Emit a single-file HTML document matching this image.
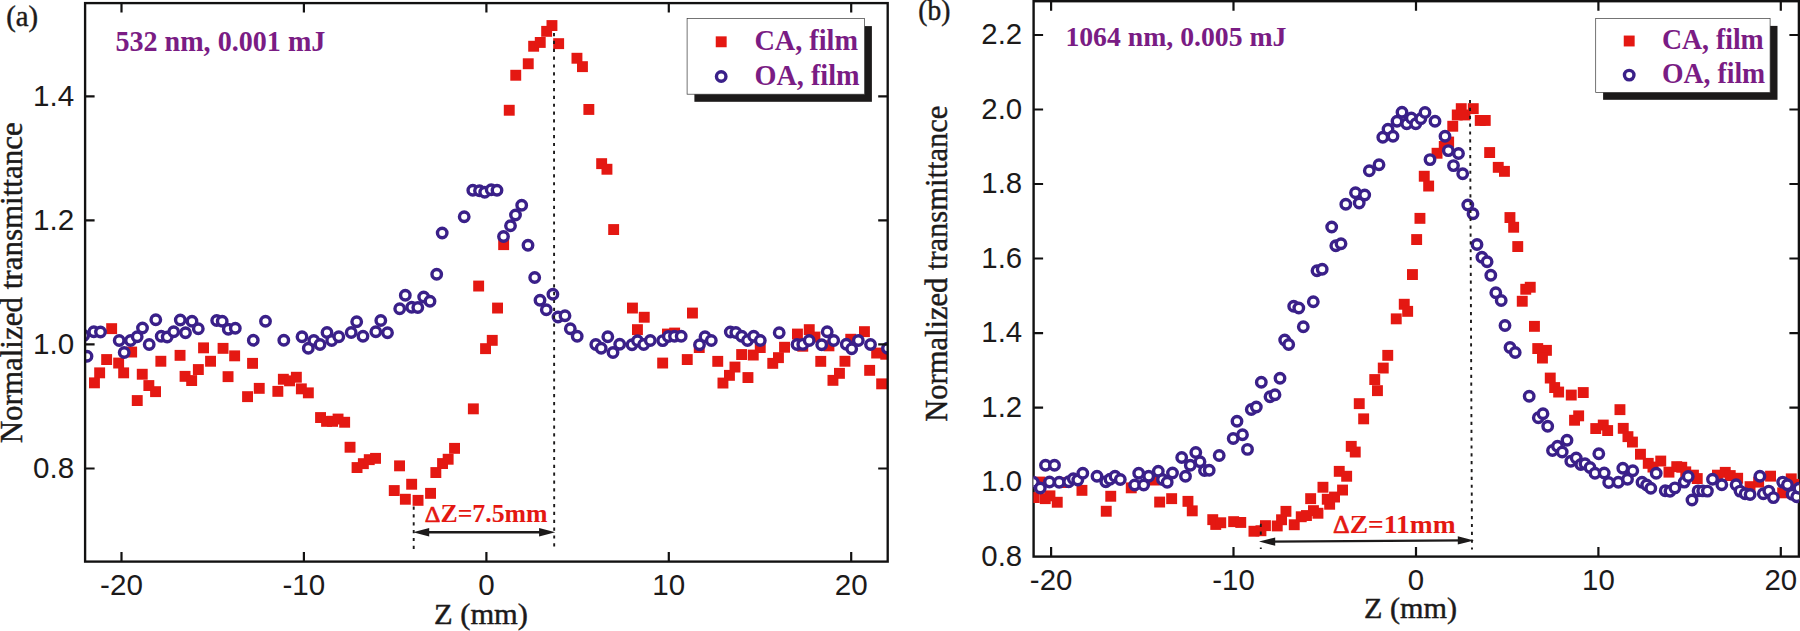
<!DOCTYPE html>
<html lang="en"><head><meta charset="utf-8"><title>Z-scan normalized transmittance</title>
<style>html,body{margin:0;padding:0;background:#fff}body{width:1800px;height:631px;overflow:hidden}svg{display:block}.s{font-family:"Liberation Serif","Times New Roman",serif}.a{font-family:"Liberation Sans",Arial,sans-serif}.b{font-weight:bold}.k{stroke:#1c1a1a;stroke-width:.45px;paint-order:stroke}</style></head><body>
<svg width="1800" height="631" viewBox="0 0 1800 631">
<rect width="1800" height="631" fill="#fff"/>
<clipPath id="cL"><rect x="85.1" y="3.1" width="802.6" height="558.5"/></clipPath>
<g clip-path="url(#cL)">
<g fill="#E41812"><rect x="106.2" y="323.2" width="10.9" height="10.9"/><rect x="101.2" y="354.1" width="10.9" height="10.9"/><rect x="94.2" y="367.4" width="10.9" height="10.9"/><rect x="89.0" y="377.4" width="10.9" height="10.9"/><rect x="113.2" y="357.6" width="10.9" height="10.9"/><rect x="118.2" y="367.4" width="10.9" height="10.9"/><rect x="126.2" y="346.6" width="10.9" height="10.9"/><rect x="131.8" y="395.1" width="10.9" height="10.9"/><rect x="136.8" y="368.8" width="10.9" height="10.9"/><rect x="143.4" y="380.1" width="10.9" height="10.9"/><rect x="150.1" y="386.2" width="10.9" height="10.9"/><rect x="155.4" y="355.8" width="10.9" height="10.9"/><rect x="174.6" y="349.9" width="10.9" height="10.9"/><rect x="179.6" y="370.9" width="10.9" height="10.9"/><rect x="186.2" y="375.1" width="10.9" height="10.9"/><rect x="192.9" y="364.1" width="10.9" height="10.9"/><rect x="198.1" y="342.4" width="10.9" height="10.9"/><rect x="205.1" y="355.8" width="10.9" height="10.9"/><rect x="217.6" y="342.9" width="10.9" height="10.9"/><rect x="222.6" y="371.2" width="10.9" height="10.9"/><rect x="229.2" y="350.4" width="10.9" height="10.9"/><rect x="247.1" y="357.9" width="10.9" height="10.9"/><rect x="242.1" y="391.2" width="10.9" height="10.9"/><rect x="253.8" y="382.9" width="10.9" height="10.9"/><rect x="272.4" y="385.9" width="10.9" height="10.9"/><rect x="277.9" y="373.8" width="10.9" height="10.9"/><rect x="284.1" y="375.4" width="10.9" height="10.9"/><rect x="290.9" y="371.8" width="10.9" height="10.9"/><rect x="295.9" y="383.4" width="10.9" height="10.9"/><rect x="302.9" y="387.4" width="10.9" height="10.9"/><rect x="315.1" y="412.1" width="10.9" height="10.9"/><rect x="321.1" y="415.9" width="10.9" height="10.9"/><rect x="327.1" y="415.9" width="10.9" height="10.9"/><rect x="332.6" y="413.6" width="10.9" height="10.9"/><rect x="339.2" y="416.8" width="10.9" height="10.9"/><rect x="344.6" y="441.8" width="10.9" height="10.9"/><rect x="351.6" y="462.1" width="10.9" height="10.9"/><rect x="357.9" y="458.2" width="10.9" height="10.9"/><rect x="363.8" y="454.2" width="10.9" height="10.9"/><rect x="370.1" y="452.9" width="10.9" height="10.9"/><rect x="394.1" y="460.4" width="10.9" height="10.9"/><rect x="388.8" y="485.1" width="10.9" height="10.9"/><rect x="406.2" y="478.8" width="10.9" height="10.9"/><rect x="399.9" y="493.8" width="10.9" height="10.9"/><rect x="412.6" y="494.9" width="10.9" height="10.9"/><rect x="425.1" y="487.9" width="10.9" height="10.9"/><rect x="430.4" y="467.1" width="10.9" height="10.9"/><rect x="437.1" y="458.1" width="10.9" height="10.9"/><rect x="442.7" y="453.8" width="10.9" height="10.9"/><rect x="449.1" y="442.9" width="10.9" height="10.9"/><rect x="467.9" y="403.4" width="10.9" height="10.9"/><rect x="473.2" y="280.6" width="10.9" height="10.9"/><rect x="492.1" y="302.6" width="10.9" height="10.9"/><rect x="486.8" y="334.9" width="10.9" height="10.9"/><rect x="480.1" y="343.2" width="10.9" height="10.9"/><rect x="498.2" y="239.2" width="10.9" height="10.9"/><rect x="503.8" y="104.8" width="10.9" height="10.9"/><rect x="510.3" y="69.8" width="10.9" height="10.9"/><rect x="522.8" y="58.3" width="10.9" height="10.9"/><rect x="528.2" y="40.8" width="10.9" height="10.9"/><rect x="534.8" y="37.0" width="10.9" height="10.9"/><rect x="541.2" y="25.9" width="10.9" height="10.9"/><rect x="546.5" y="20.1" width="10.9" height="10.9"/><rect x="553.2" y="38.2" width="10.9" height="10.9"/><rect x="571.5" y="52.8" width="10.9" height="10.9"/><rect x="577.0" y="61.2" width="10.9" height="10.9"/><rect x="583.4" y="104.0" width="10.9" height="10.9"/><rect x="596.2" y="158.2" width="10.9" height="10.9"/><rect x="601.5" y="163.8" width="10.9" height="10.9"/><rect x="608.2" y="224.1" width="10.9" height="10.9"/><rect x="627.0" y="302.6" width="10.9" height="10.9"/><rect x="638.8" y="311.8" width="10.9" height="10.9"/><rect x="632.0" y="324.2" width="10.9" height="10.9"/><rect x="657.2" y="357.6" width="10.9" height="10.9"/><rect x="662.0" y="328.6" width="10.9" height="10.9"/><rect x="669.2" y="327.6" width="10.9" height="10.9"/><rect x="687.0" y="307.6" width="10.9" height="10.9"/><rect x="681.8" y="354.1" width="10.9" height="10.9"/><rect x="693.8" y="342.1" width="10.9" height="10.9"/><rect x="712.3" y="355.9" width="10.9" height="10.9"/><rect x="717.5" y="377.6" width="10.9" height="10.9"/><rect x="724.0" y="369.9" width="10.9" height="10.9"/><rect x="729.5" y="361.6" width="10.9" height="10.9"/><rect x="736.2" y="349.1" width="10.9" height="10.9"/><rect x="742.5" y="372.1" width="10.9" height="10.9"/><rect x="747.8" y="349.6" width="10.9" height="10.9"/><rect x="754.8" y="342.1" width="10.9" height="10.9"/><rect x="767.3" y="357.9" width="10.9" height="10.9"/><rect x="773.0" y="352.2" width="10.9" height="10.9"/><rect x="779.1" y="341.8" width="10.9" height="10.9"/><rect x="792.0" y="328.6" width="10.9" height="10.9"/><rect x="797.3" y="340.8" width="10.9" height="10.9"/><rect x="803.8" y="324.2" width="10.9" height="10.9"/><rect x="809.5" y="331.6" width="10.9" height="10.9"/><rect x="815.3" y="355.9" width="10.9" height="10.9"/><rect x="823.5" y="340.4" width="10.9" height="10.9"/><rect x="827.5" y="374.9" width="10.9" height="10.9"/><rect x="834.0" y="367.9" width="10.9" height="10.9"/><rect x="839.5" y="355.8" width="10.9" height="10.9"/><rect x="845.3" y="333.8" width="10.9" height="10.9"/><rect x="859.0" y="326.2" width="10.9" height="10.9"/><rect x="864.2" y="364.9" width="10.9" height="10.9"/><rect x="871.2" y="347.6" width="10.9" height="10.9"/><rect x="876.2" y="378.4" width="10.9" height="10.9"/><rect x="880.3" y="348.8" width="10.9" height="10.9"/></g>
<g fill="#fff" stroke="#3A2089" stroke-width="3.4"><circle cx="83.7" cy="335.5" r="4.75"/><circle cx="87.0" cy="356.3" r="4.75"/><circle cx="93.8" cy="331.7" r="4.75"/><circle cx="100.5" cy="332.0" r="4.75"/><circle cx="119.2" cy="340.5" r="4.75"/><circle cx="124.2" cy="352.5" r="4.75"/><circle cx="130.5" cy="340.5" r="4.75"/><circle cx="137.2" cy="336.7" r="4.75"/><circle cx="142.5" cy="328.0" r="4.75"/><circle cx="149.2" cy="344.5" r="4.75"/><circle cx="155.8" cy="319.7" r="4.75"/><circle cx="161.2" cy="336.3" r="4.75"/><circle cx="167.2" cy="337.0" r="4.75"/><circle cx="173.7" cy="331.7" r="4.75"/><circle cx="180.3" cy="320.0" r="4.75"/><circle cx="185.5" cy="332.8" r="4.75"/><circle cx="192.0" cy="321.3" r="4.75"/><circle cx="198.3" cy="328.7" r="4.75"/><circle cx="216.7" cy="320.5" r="4.75"/><circle cx="222.2" cy="321.3" r="4.75"/><circle cx="228.3" cy="329.2" r="4.75"/><circle cx="235.3" cy="328.3" r="4.75"/><circle cx="253.3" cy="340.3" r="4.75"/><circle cx="265.5" cy="321.2" r="4.75"/><circle cx="283.8" cy="340.3" r="4.75"/><circle cx="302.0" cy="336.7" r="4.75"/><circle cx="308.3" cy="348.3" r="4.75"/><circle cx="313.8" cy="340.5" r="4.75"/><circle cx="320.0" cy="344.5" r="4.75"/><circle cx="327.0" cy="332.5" r="4.75"/><circle cx="331.7" cy="340.5" r="4.75"/><circle cx="338.8" cy="336.7" r="4.75"/><circle cx="351.2" cy="332.5" r="4.75"/><circle cx="356.7" cy="321.7" r="4.75"/><circle cx="363.0" cy="336.3" r="4.75"/><circle cx="375.8" cy="331.7" r="4.75"/><circle cx="380.8" cy="320.5" r="4.75"/><circle cx="387.5" cy="332.8" r="4.75"/><circle cx="399.7" cy="308.7" r="4.75"/><circle cx="405.3" cy="295.3" r="4.75"/><circle cx="411.7" cy="307.2" r="4.75"/><circle cx="417.8" cy="307.5" r="4.75"/><circle cx="423.7" cy="297.0" r="4.75"/><circle cx="430.0" cy="301.2" r="4.75"/><circle cx="436.7" cy="274.2" r="4.75"/><circle cx="442.2" cy="233.0" r="4.75"/><circle cx="464.2" cy="216.7" r="4.75"/><circle cx="472.8" cy="190.3" r="4.75"/><circle cx="479.5" cy="190.8" r="4.75"/><circle cx="484.7" cy="192.2" r="4.75"/><circle cx="491.2" cy="189.7" r="4.75"/><circle cx="497.0" cy="190.3" r="4.75"/><circle cx="503.5" cy="236.5" r="4.75"/><circle cx="510.5" cy="225.8" r="4.75"/><circle cx="515.5" cy="215.0" r="4.75"/><circle cx="521.7" cy="205.3" r="4.75"/><circle cx="528.0" cy="245.2" r="4.75"/><circle cx="534.7" cy="277.5" r="4.75"/><circle cx="540.0" cy="300.2" r="4.75"/><circle cx="546.3" cy="309.7" r="4.75"/><circle cx="552.9" cy="294.2" r="4.75"/><circle cx="558.0" cy="317.0" r="4.75"/><circle cx="565.0" cy="315.8" r="4.75"/><circle cx="570.3" cy="328.7" r="4.75"/><circle cx="577.2" cy="336.3" r="4.75"/><circle cx="595.8" cy="344.5" r="4.75"/><circle cx="601.2" cy="348.3" r="4.75"/><circle cx="607.8" cy="336.7" r="4.75"/><circle cx="613.0" cy="352.5" r="4.75"/><circle cx="619.7" cy="344.2" r="4.75"/><circle cx="632.0" cy="344.7" r="4.75"/><circle cx="637.5" cy="340.8" r="4.75"/><circle cx="643.7" cy="344.5" r="4.75"/><circle cx="650.3" cy="340.5" r="4.75"/><circle cx="662.7" cy="340.6" r="4.75"/><circle cx="668.3" cy="336.5" r="4.75"/><circle cx="674.5" cy="336.3" r="4.75"/><circle cx="681.2" cy="336.2" r="4.75"/><circle cx="699.5" cy="344.7" r="4.75"/><circle cx="705.0" cy="336.7" r="4.75"/><circle cx="711.3" cy="340.5" r="4.75"/><circle cx="730.3" cy="332.0" r="4.75"/><circle cx="735.8" cy="332.5" r="4.75"/><circle cx="741.7" cy="336.3" r="4.75"/><circle cx="747.5" cy="340.5" r="4.75"/><circle cx="753.7" cy="336.3" r="4.75"/><circle cx="760.3" cy="340.5" r="4.75"/><circle cx="779.2" cy="332.8" r="4.75"/><circle cx="797.0" cy="344.5" r="4.75"/><circle cx="802.8" cy="344.4" r="4.75"/><circle cx="809.2" cy="340.5" r="4.75"/><circle cx="821.7" cy="344.7" r="4.75"/><circle cx="827.2" cy="331.7" r="4.75"/><circle cx="833.7" cy="340.5" r="4.75"/><circle cx="846.3" cy="344.2" r="4.75"/><circle cx="851.7" cy="348.7" r="4.75"/><circle cx="858.3" cy="340.5" r="4.75"/><circle cx="870.5" cy="344.5" r="4.75"/><circle cx="887.5" cy="348.3" r="4.75"/></g>
</g>
<rect x="85.1" y="3.1" width="802.6" height="558.5" fill="none" stroke="#121111" stroke-width="2.35"/>
<path d="M121.5 561.6v-9.5M121.5 3.1v9.5M303.9 561.6v-9.5M303.9 3.1v9.5M486.4 561.6v-9.5M486.4 3.1v9.5M668.8 561.6v-9.5M668.8 3.1v9.5M851.2 561.6v-9.5M851.2 3.1v9.5M85.1 468.5h9.5M887.7 468.5h-9.5M85.1 344.4h9.5M887.7 344.4h-9.5M85.1 220.4h9.5M887.7 220.4h-9.5M85.1 96.3h9.5M887.7 96.3h-9.5" stroke="#121111" stroke-width="2.2" fill="none"/>
<line x1="554.0" y1="33" x2="554.2" y2="547.5" stroke="#1c1a1a" stroke-width="1.9" stroke-dasharray="3.2 4.65" stroke-dashoffset="0"/>
<line x1="413.7" y1="506.5" x2="413.7" y2="549.5" stroke="#1c1a1a" stroke-width="1.9" stroke-dasharray="3.2 4.65" stroke-dashoffset="0"/>
<line x1="421.0" y1="532.2" x2="547.3" y2="532.2" stroke="#1c1a1a" stroke-width="2.4"/>
<path d="M413.0 532.2l16.2 -4.2v8.4zM555.3 532.2l-16.2 -4.2v8.4z" fill="#1c1a1a"/>
<text class="s b" x="424.8" y="521.7" font-size="25.5" fill="#E41812" textLength="122.8" lengthAdjust="spacingAndGlyphs"><tspan font-weight="normal" font-size="24" stroke="#E41812" stroke-width="0.7">Δ</tspan>Z=7.5mm</text>
<text class="s b" x="115.4" y="50.8" font-size="29.3" fill="#7A1C84" textLength="210" lengthAdjust="spacingAndGlyphs">532 nm, 0.001 mJ</text>
<rect x="694.4" y="26.1" width="177.5" height="75.7" fill="#1c1a1a"/>
<rect x="687.1" y="18.5" width="177.5" height="75.7" fill="#fff" stroke="#3a3a3a" stroke-width="0.7"/>
<rect x="715.75" y="36.349999999999994" width="10.9" height="10.9" fill="#E41812"/>
<circle cx="721.2" cy="76.5" r="4.75" fill="none" stroke="#3A2089" stroke-width="3.4"/>
<text class="s b" x="754.4" y="49.9" font-size="30.2" fill="#7A1C84" textLength="103.6" lengthAdjust="spacingAndGlyphs">CA, film</text>
<text class="s b" x="754.4" y="84.7" font-size="30.2" fill="#7A1C84" textLength="105.2" lengthAdjust="spacingAndGlyphs">OA, film</text>
<text class="a" x="121.5" y="595.3" font-size="29.6" fill="#1c1a1a" text-anchor="middle">-20</text>
<text class="a" x="303.9" y="595.3" font-size="29.6" fill="#1c1a1a" text-anchor="middle">-10</text>
<text class="a" x="486.4" y="595.3" font-size="29.6" fill="#1c1a1a" text-anchor="middle">0</text>
<text class="a" x="668.8" y="595.3" font-size="29.6" fill="#1c1a1a" text-anchor="middle">10</text>
<text class="a" x="851.2" y="595.3" font-size="29.6" fill="#1c1a1a" text-anchor="middle">20</text>
<text class="a" x="74.1" y="478.1" font-size="29.6" fill="#1c1a1a" text-anchor="end">0.8</text>
<text class="a" x="74.1" y="354.0" font-size="29.6" fill="#1c1a1a" text-anchor="end">1.0</text>
<text class="a" x="74.1" y="230.0" font-size="29.6" fill="#1c1a1a" text-anchor="end">1.2</text>
<text class="a" x="74.1" y="105.89999999999999" font-size="29.6" fill="#1c1a1a" text-anchor="end">1.4</text>
<text class="s k" x="434.0" y="624.4" font-size="29.8" fill="#1c1a1a" textLength="94" lengthAdjust="spacingAndGlyphs">Z (mm)</text>
<text class="s k" transform="translate(22.2 443.3) rotate(-90)" font-size="31" fill="#1c1a1a" textLength="321" lengthAdjust="spacingAndGlyphs">Normalized transmittance</text>
<text class="s k" x="6.2" y="26.0" font-size="28.8" fill="#1c1a1a" textLength="31.9" lengthAdjust="spacingAndGlyphs">(a)</text>
<clipPath id="cR"><rect x="1033.4" y="1.2" width="765.8" height="555.4"/></clipPath>
<rect x="1033.6" y="1.2" width="765.3000000000002" height="555.4" fill="none" stroke="#121111" stroke-width="2.4"/>
<path d="M1051.1 556.6v-9.5M1051.1 1.2v9.5M1233.5 556.6v-9.5M1233.5 1.2v9.5M1416.0 556.6v-9.5M1416.0 1.2v9.5M1598.4 556.6v-9.5M1598.4 1.2v9.5M1780.8 556.6v-9.5M1780.8 1.2v9.5M1033.6 482.1h9.5M1798.9 482.1h-9.5M1033.6 407.6h9.5M1798.9 407.6h-9.5M1033.6 333.1h9.5M1798.9 333.1h-9.5M1033.6 258.5h9.5M1798.9 258.5h-9.5M1033.6 184.0h9.5M1798.9 184.0h-9.5M1033.6 109.5h9.5M1798.9 109.5h-9.5M1033.6 35.0h9.5M1798.9 35.0h-9.5" stroke="#121111" stroke-width="2.2" fill="none"/>
<g clip-path="url(#cR)">
<g fill="#E41812"><rect x="1028.8" y="492.1" width="10.9" height="10.9"/><rect x="1034.5" y="476.6" width="10.9" height="10.9"/><rect x="1039.8" y="493.2" width="10.9" height="10.9"/><rect x="1044.5" y="490.4" width="10.9" height="10.9"/><rect x="1051.8" y="496.8" width="10.9" height="10.9"/><rect x="1059.5" y="477.1" width="10.9" height="10.9"/><rect x="1076.5" y="484.9" width="10.9" height="10.9"/><rect x="1105.3" y="490.8" width="10.9" height="10.9"/><rect x="1100.8" y="505.8" width="10.9" height="10.9"/><rect x="1125.8" y="482.4" width="10.9" height="10.9"/><rect x="1148.8" y="474.6" width="10.9" height="10.9"/><rect x="1154.2" y="496.6" width="10.9" height="10.9"/><rect x="1166.2" y="493.2" width="10.9" height="10.9"/><rect x="1182.5" y="495.9" width="10.9" height="10.9"/><rect x="1186.8" y="505.4" width="10.9" height="10.9"/><rect x="1207.3" y="514.2" width="10.9" height="10.9"/><rect x="1210.3" y="519.0" width="10.9" height="10.9"/><rect x="1215.3" y="517.3" width="10.9" height="10.9"/><rect x="1228.2" y="516.2" width="10.9" height="10.9"/><rect x="1235.3" y="517.0" width="10.9" height="10.9"/><rect x="1248.5" y="525.8" width="10.9" height="10.9"/><rect x="1255.5" y="525.3" width="10.9" height="10.9"/><rect x="1260.0" y="520.2" width="10.9" height="10.9"/><rect x="1271.8" y="520.5" width="10.9" height="10.9"/><rect x="1276.1" y="514.3" width="10.9" height="10.9"/><rect x="1280.5" y="505.9" width="10.9" height="10.9"/><rect x="1288.8" y="519.3" width="10.9" height="10.9"/><rect x="1295.8" y="511.3" width="10.9" height="10.9"/><rect x="1301.0" y="510.1" width="10.9" height="10.9"/><rect x="1305.2" y="493.2" width="10.9" height="10.9"/><rect x="1308.0" y="505.2" width="10.9" height="10.9"/><rect x="1312.5" y="507.8" width="10.9" height="10.9"/><rect x="1317.5" y="481.8" width="10.9" height="10.9"/><rect x="1324.2" y="498.8" width="10.9" height="10.9"/><rect x="1329.1" y="491.6" width="10.9" height="10.9"/><rect x="1337.1" y="484.6" width="10.9" height="10.9"/><rect x="1321.8" y="493.8" width="10.9" height="10.9"/><rect x="1333.8" y="465.9" width="10.9" height="10.9"/><rect x="1341.2" y="470.8" width="10.9" height="10.9"/><rect x="1345.8" y="440.9" width="10.9" height="10.9"/><rect x="1349.8" y="446.6" width="10.9" height="10.9"/><rect x="1353.8" y="398.2" width="10.9" height="10.9"/><rect x="1358.2" y="413.4" width="10.9" height="10.9"/><rect x="1369.3" y="374.1" width="10.9" height="10.9"/><rect x="1372.0" y="385.2" width="10.9" height="10.9"/><rect x="1382.3" y="349.9" width="10.9" height="10.9"/><rect x="1377.8" y="362.6" width="10.9" height="10.9"/><rect x="1407.0" y="269.1" width="10.9" height="10.9"/><rect x="1398.8" y="298.8" width="10.9" height="10.9"/><rect x="1402.2" y="305.9" width="10.9" height="10.9"/><rect x="1390.8" y="313.4" width="10.9" height="10.9"/><rect x="1431.6" y="147.8" width="10.9" height="10.9"/><rect x="1438.8" y="141.0" width="10.9" height="10.9"/><rect x="1418.8" y="170.8" width="10.9" height="10.9"/><rect x="1423.2" y="180.6" width="10.9" height="10.9"/><rect x="1414.5" y="212.9" width="10.9" height="10.9"/><rect x="1411.2" y="234.1" width="10.9" height="10.9"/><rect x="1443.2" y="136.6" width="10.9" height="10.9"/><rect x="1447.3" y="120.8" width="10.9" height="10.9"/><rect x="1451.8" y="109.5" width="10.9" height="10.9"/><rect x="1455.8" y="103.2" width="10.9" height="10.9"/><rect x="1459.5" y="109.5" width="10.9" height="10.9"/><rect x="1467.8" y="103.2" width="10.9" height="10.9"/><rect x="1474.8" y="115.0" width="10.9" height="10.9"/><rect x="1479.8" y="115.0" width="10.9" height="10.9"/><rect x="1484.2" y="147.1" width="10.9" height="10.9"/><rect x="1492.8" y="161.9" width="10.9" height="10.9"/><rect x="1499.0" y="165.9" width="10.9" height="10.9"/><rect x="1504.5" y="212.1" width="10.9" height="10.9"/><rect x="1508.2" y="221.8" width="10.9" height="10.9"/><rect x="1512.3" y="241.1" width="10.9" height="10.9"/><rect x="1520.3" y="283.8" width="10.9" height="10.9"/><rect x="1524.8" y="281.8" width="10.9" height="10.9"/><rect x="1516.8" y="295.8" width="10.9" height="10.9"/><rect x="1529.0" y="320.9" width="10.9" height="10.9"/><rect x="1532.3" y="343.1" width="10.9" height="10.9"/><rect x="1541.0" y="344.9" width="10.9" height="10.9"/><rect x="1537.0" y="352.6" width="10.9" height="10.9"/><rect x="1544.8" y="372.6" width="10.9" height="10.9"/><rect x="1549.2" y="382.1" width="10.9" height="10.9"/><rect x="1553.2" y="386.6" width="10.9" height="10.9"/><rect x="1565.8" y="389.6" width="10.9" height="10.9"/><rect x="1577.8" y="387.1" width="10.9" height="10.9"/><rect x="1573.2" y="410.4" width="10.9" height="10.9"/><rect x="1569.1" y="414.8" width="10.9" height="10.9"/><rect x="1590.3" y="423.1" width="10.9" height="10.9"/><rect x="1597.8" y="419.6" width="10.9" height="10.9"/><rect x="1602.2" y="425.1" width="10.9" height="10.9"/><rect x="1614.5" y="404.2" width="10.9" height="10.9"/><rect x="1617.8" y="422.9" width="10.9" height="10.9"/><rect x="1622.5" y="431.2" width="10.9" height="10.9"/><rect x="1627.0" y="436.6" width="10.9" height="10.9"/><rect x="1635.0" y="448.8" width="10.9" height="10.9"/><rect x="1642.8" y="457.9" width="10.9" height="10.9"/><rect x="1655.3" y="455.6" width="10.9" height="10.9"/><rect x="1647.5" y="461.6" width="10.9" height="10.9"/><rect x="1663.5" y="466.7" width="10.9" height="10.9"/><rect x="1671.3" y="461.2" width="10.9" height="10.9"/><rect x="1676.3" y="461.8" width="10.9" height="10.9"/><rect x="1680.3" y="466.4" width="10.9" height="10.9"/><rect x="1688.0" y="469.7" width="10.9" height="10.9"/><rect x="1691.8" y="473.1" width="10.9" height="10.9"/><rect x="1712.0" y="469.7" width="10.9" height="10.9"/><rect x="1719.8" y="466.9" width="10.9" height="10.9"/><rect x="1724.8" y="470.1" width="10.9" height="10.9"/><rect x="1732.2" y="472.8" width="10.9" height="10.9"/><rect x="1744.6" y="481.2" width="10.9" height="10.9"/><rect x="1753.2" y="476.7" width="10.9" height="10.9"/><rect x="1765.1" y="470.7" width="10.9" height="10.9"/><rect x="1777.2" y="487.4" width="10.9" height="10.9"/><rect x="1785.8" y="473.4" width="10.9" height="10.9"/><rect x="1791.2" y="478.9" width="10.9" height="10.9"/></g>
<g fill="#fff" stroke="#3A2089" stroke-width="3.4"><circle cx="1033.3" cy="482.2" r="4.75"/><circle cx="1040.3" cy="488.0" r="4.75"/><circle cx="1045.5" cy="465.3" r="4.75"/><circle cx="1049.5" cy="482.0" r="4.75"/><circle cx="1054.5" cy="465.3" r="4.75"/><circle cx="1059.2" cy="482.2" r="4.75"/><circle cx="1068.7" cy="481.7" r="4.75"/><circle cx="1073.3" cy="478.7" r="4.75"/><circle cx="1077.8" cy="480.0" r="4.75"/><circle cx="1082.8" cy="473.3" r="4.75"/><circle cx="1097.0" cy="476.3" r="4.75"/><circle cx="1105.8" cy="481.7" r="4.75"/><circle cx="1110.0" cy="479.2" r="4.75"/><circle cx="1115.0" cy="476.2" r="4.75"/><circle cx="1120.3" cy="479.5" r="4.75"/><circle cx="1134.7" cy="485.0" r="4.75"/><circle cx="1138.7" cy="473.3" r="4.75"/><circle cx="1143.7" cy="485.0" r="4.75"/><circle cx="1148.7" cy="476.2" r="4.75"/><circle cx="1158.3" cy="471.2" r="4.75"/><circle cx="1162.5" cy="479.5" r="4.75"/><circle cx="1167.2" cy="482.2" r="4.75"/><circle cx="1172.5" cy="473.0" r="4.75"/><circle cx="1181.7" cy="457.5" r="4.75"/><circle cx="1185.5" cy="476.2" r="4.75"/><circle cx="1190.3" cy="465.3" r="4.75"/><circle cx="1195.8" cy="452.5" r="4.75"/><circle cx="1200.0" cy="461.7" r="4.75"/><circle cx="1204.5" cy="470.5" r="4.75"/><circle cx="1209.2" cy="470.3" r="4.75"/><circle cx="1219.2" cy="455.5" r="4.75"/><circle cx="1233.2" cy="438.5" r="4.75"/><circle cx="1237.0" cy="421.3" r="4.75"/><circle cx="1242.5" cy="434.7" r="4.75"/><circle cx="1247.5" cy="449.4" r="4.75"/><circle cx="1251.3" cy="409.5" r="4.75"/><circle cx="1256.3" cy="407.0" r="4.75"/><circle cx="1261.3" cy="382.2" r="4.75"/><circle cx="1270.0" cy="396.7" r="4.75"/><circle cx="1275.0" cy="394.7" r="4.75"/><circle cx="1280.0" cy="378.3" r="4.75"/><circle cx="1284.7" cy="340.0" r="4.75"/><circle cx="1288.7" cy="344.5" r="4.75"/><circle cx="1293.7" cy="306.3" r="4.75"/><circle cx="1298.8" cy="308.0" r="4.75"/><circle cx="1303.3" cy="326.7" r="4.75"/><circle cx="1313.3" cy="301.7" r="4.75"/><circle cx="1317.0" cy="270.8" r="4.75"/><circle cx="1322.2" cy="269.2" r="4.75"/><circle cx="1331.7" cy="227.0" r="4.75"/><circle cx="1335.8" cy="245.7" r="4.75"/><circle cx="1341.0" cy="243.8" r="4.75"/><circle cx="1345.8" cy="204.2" r="4.75"/><circle cx="1355.5" cy="192.8" r="4.75"/><circle cx="1359.2" cy="203.0" r="4.75"/><circle cx="1364.7" cy="195.0" r="4.75"/><circle cx="1369.3" cy="170.8" r="4.75"/><circle cx="1379.0" cy="164.7" r="4.75"/><circle cx="1382.8" cy="137.2" r="4.75"/><circle cx="1388.0" cy="129.2" r="4.75"/><circle cx="1393.0" cy="136.3" r="4.75"/><circle cx="1397.0" cy="121.3" r="4.75"/><circle cx="1402.0" cy="112.2" r="4.75"/><circle cx="1406.7" cy="123.7" r="4.75"/><circle cx="1411.3" cy="118.0" r="4.75"/><circle cx="1415.8" cy="123.7" r="4.75"/><circle cx="1420.8" cy="118.7" r="4.75"/><circle cx="1425.0" cy="112.5" r="4.75"/><circle cx="1430.0" cy="159.6" r="4.75"/><circle cx="1435.0" cy="121.3" r="4.75"/><circle cx="1445.0" cy="136.3" r="4.75"/><circle cx="1448.3" cy="150.6" r="4.75"/><circle cx="1453.5" cy="165.6" r="4.75"/><circle cx="1458.5" cy="153.5" r="4.75"/><circle cx="1462.7" cy="173.8" r="4.75"/><circle cx="1467.8" cy="205.0" r="4.75"/><circle cx="1473.0" cy="213.8" r="4.75"/><circle cx="1477.0" cy="244.5" r="4.75"/><circle cx="1481.9" cy="257.3" r="4.75"/><circle cx="1487.1" cy="261.7" r="4.75"/><circle cx="1490.8" cy="275.3" r="4.75"/><circle cx="1495.8" cy="292.8" r="4.75"/><circle cx="1501.2" cy="300.5" r="4.75"/><circle cx="1505.0" cy="325.5" r="4.75"/><circle cx="1510.0" cy="347.5" r="4.75"/><circle cx="1515.2" cy="352.5" r="4.75"/><circle cx="1529.2" cy="396.3" r="4.75"/><circle cx="1538.3" cy="417.8" r="4.75"/><circle cx="1543.0" cy="413.7" r="4.75"/><circle cx="1547.7" cy="426.3" r="4.75"/><circle cx="1552.5" cy="450.5" r="4.75"/><circle cx="1557.5" cy="446.3" r="4.75"/><circle cx="1562.2" cy="452.0" r="4.75"/><circle cx="1567.0" cy="440.3" r="4.75"/><circle cx="1570.8" cy="461.3" r="4.75"/><circle cx="1576.2" cy="458.0" r="4.75"/><circle cx="1580.8" cy="464.5" r="4.75"/><circle cx="1585.0" cy="463.8" r="4.75"/><circle cx="1590.0" cy="467.5" r="4.75"/><circle cx="1595.0" cy="473.3" r="4.75"/><circle cx="1598.8" cy="453.7" r="4.75"/><circle cx="1604.2" cy="473.0" r="4.75"/><circle cx="1608.7" cy="482.5" r="4.75"/><circle cx="1618.3" cy="482.2" r="4.75"/><circle cx="1622.8" cy="468.3" r="4.75"/><circle cx="1627.5" cy="479.2" r="4.75"/><circle cx="1632.8" cy="470.8" r="4.75"/><circle cx="1642.0" cy="482.2" r="4.75"/><circle cx="1646.7" cy="485.0" r="4.75"/><circle cx="1650.8" cy="488.3" r="4.75"/><circle cx="1656.2" cy="473.3" r="4.75"/><circle cx="1665.2" cy="490.8" r="4.75"/><circle cx="1670.0" cy="491.3" r="4.75"/><circle cx="1674.9" cy="487.9" r="4.75"/><circle cx="1684.3" cy="482.1" r="4.75"/><circle cx="1688.2" cy="476.5" r="4.75"/><circle cx="1692.0" cy="500.0" r="4.75"/><circle cx="1698.1" cy="490.9" r="4.75"/><circle cx="1702.7" cy="490.9" r="4.75"/><circle cx="1707.4" cy="491.1" r="4.75"/><circle cx="1712.5" cy="479.3" r="4.75"/><circle cx="1721.8" cy="484.8" r="4.75"/><circle cx="1736.1" cy="484.7" r="4.75"/><circle cx="1740.0" cy="491.1" r="4.75"/><circle cx="1745.1" cy="493.7" r="4.75"/><circle cx="1750.1" cy="494.5" r="4.75"/><circle cx="1759.9" cy="476.3" r="4.75"/><circle cx="1763.3" cy="493.7" r="4.75"/><circle cx="1768.8" cy="491.1" r="4.75"/><circle cx="1773.4" cy="497.6" r="4.75"/><circle cx="1782.7" cy="482.1" r="4.75"/><circle cx="1787.4" cy="484.7" r="4.75"/><circle cx="1792.1" cy="494.2" r="4.75"/><circle cx="1796.7" cy="496.8" r="4.75"/><circle cx="1799.0" cy="488.3" r="4.75"/></g>
</g>
<line x1="1470.0" y1="100" x2="1472.0" y2="549.6" stroke="#1c1a1a" stroke-width="1.9" stroke-dasharray="3.2 4.65" stroke-dashoffset="0"/>
<line x1="1260.8" y1="523.7" x2="1260.8" y2="535" stroke="#1c1a1a" stroke-width="1.9" stroke-dasharray="3.2 4.65" stroke-dashoffset="0"/>
<line x1="1260.8" y1="547.5" x2="1260.8" y2="549" stroke="#1c1a1a" stroke-width="1.9" stroke-dasharray="3.2 4.65" stroke-dashoffset="0"/>
<line x1="1267.0" y1="541.6" x2="1466.0" y2="540.4" stroke="#1c1a1a" stroke-width="2.4"/>
<path d="M1259.0 541.6l16.2 -4.2v8.4zM1474.0 540.4l-16.2 -4.2v8.4z" fill="#1c1a1a"/>
<text class="s b" x="1333.0" y="532.6" font-size="26" fill="#E41812" textLength="122.6" lengthAdjust="spacingAndGlyphs"><tspan font-weight="normal" font-size="24.5" stroke="#E41812" stroke-width="0.7">Δ</tspan>Z=11mm</text>
<text class="s b" x="1065.4" y="45.6" font-size="27.8" fill="#7A1C84" textLength="221" lengthAdjust="spacingAndGlyphs">1064 nm, 0.005 mJ</text>
<rect x="1603.1000000000001" y="25.9" width="174.39999999999986" height="73.9" fill="#1c1a1a"/>
<rect x="1595.7" y="18.5" width="174.39999999999986" height="73.9" fill="#fff" stroke="#3a3a3a" stroke-width="0.7"/>
<rect x="1623.75" y="35.55" width="10.9" height="10.9" fill="#E41812"/>
<circle cx="1629.2" cy="75.1" r="4.75" fill="none" stroke="#3A2089" stroke-width="3.4"/>
<text class="s b" x="1662.0" y="48.6" font-size="29.5" fill="#7A1C84" textLength="101.7" lengthAdjust="spacingAndGlyphs">CA, film</text>
<text class="s b" x="1662.0" y="83.2" font-size="29.5" fill="#7A1C84" textLength="103.2" lengthAdjust="spacingAndGlyphs">OA, film</text>
<text class="a" x="1051.1" y="590.1" font-size="29.4" fill="#1c1a1a" text-anchor="middle">-20</text>
<text class="a" x="1233.5" y="590.1" font-size="29.4" fill="#1c1a1a" text-anchor="middle">-10</text>
<text class="a" x="1416.0" y="590.1" font-size="29.4" fill="#1c1a1a" text-anchor="middle">0</text>
<text class="a" x="1598.4" y="590.1" font-size="29.4" fill="#1c1a1a" text-anchor="middle">10</text>
<text class="a" x="1780.8" y="590.1" font-size="29.4" fill="#1c1a1a" text-anchor="middle">20</text>
<text class="a" x="1022.2" y="491.3" font-size="29.4" fill="#1c1a1a" text-anchor="end">1.0</text>
<text class="a" x="1022.2" y="416.8" font-size="29.4" fill="#1c1a1a" text-anchor="end">1.2</text>
<text class="a" x="1022.2" y="342.3" font-size="29.4" fill="#1c1a1a" text-anchor="end">1.4</text>
<text class="a" x="1022.2" y="267.7" font-size="29.4" fill="#1c1a1a" text-anchor="end">1.6</text>
<text class="a" x="1022.2" y="193.2" font-size="29.4" fill="#1c1a1a" text-anchor="end">1.8</text>
<text class="a" x="1022.2" y="118.7" font-size="29.4" fill="#1c1a1a" text-anchor="end">2.0</text>
<text class="a" x="1022.2" y="44.2" font-size="29.4" fill="#1c1a1a" text-anchor="end">2.2</text>
<text class="s k" x="1364.0" y="617.9" font-size="29.6" fill="#1c1a1a" textLength="93" lengthAdjust="spacingAndGlyphs">Z (mm)</text>
<text class="s k" transform="translate(946.7 421.7) rotate(-90)" font-size="30.7" fill="#1c1a1a" textLength="316" lengthAdjust="spacingAndGlyphs">Normalized transmittance</text>
<text class="s k" x="918.3" y="19.7" font-size="28.8" fill="#1c1a1a" textLength="32" lengthAdjust="spacingAndGlyphs">(b)</text>
<text class="a" x="1022.2" y="565.8000000000001" font-size="29.4" fill="#1c1a1a" text-anchor="end">0.8</text>
</svg></body></html>
